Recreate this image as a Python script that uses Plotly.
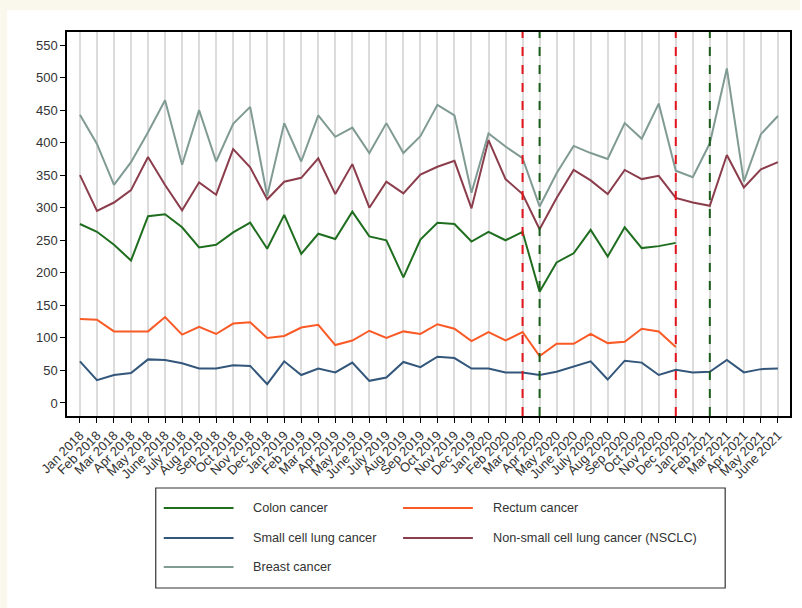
import plotly.graph_objects as go

# Month labels, Jan 2018 - June 2021
month_names = ["Jan", "Feb", "Mar", "Apr", "May", "June", "July", "Aug", "Sep", "Oct", "Nov", "Dec"]
months = [f"{m} {y}" for y in (2018, 2019, 2020) for m in month_names] + \
         [f"{m} 2021" for m in month_names[:6]]

# Monthly case counts per cancer type
colon = [275, 263, 243, 219, 287, 290, 270, 239, 243, 262, 277, 237,
         289, 229, 260, 252, 294, 256, 250, 193, 251, 277, 275, 248,
         263, 250, 263, 171, 216, 230, 266, 225, 270, 238, 241, 246,
         None, None, None, None, None, None]
rectum = [129, 128, 110, 110, 110, 132, 105, 117, 106, 122, 124, 100,
          103, 116, 120, 89, 96, 111, 100, 110, 106, 121, 114, 95,
          109, 96, 109, 72, 91, 91, 106, 92, 94, 114, 110, 86,
          None, None, None, None, None, None]
sclc = [64, 35, 43, 46, 67, 66, 61, 53, 53, 58, 57, 29,
        64, 43, 53, 47, 62, 34, 39, 63, 55, 71, 69, 53,
        53, 47, 47, 43, 48, 56, 64, 36, 65, 62, 43, 51,
        47, 48, 66, 47, 52, 53]
nsclc = [350, 295, 308, 327, 378, 335, 296, 339, 320, 390, 362, 313,
         340, 346, 376, 321, 367, 300, 340, 322, 351, 363, 372, 299,
         404, 344, 321, 267, 315, 358, 342, 321, 358, 344, 349, 315,
         308, 303, 381, 331, 359, 370]
breast = [443, 398, 335, 370, 416, 465, 366, 450, 371, 429, 455, 318,
          430, 371, 442, 409, 423, 384, 430, 384, 410, 458, 442, 323,
          414, 394, 376, 302, 353, 395, 384, 375, 430, 406, 460, 357,
          347, 399, 514, 340, 413, 441]

series = [
    ("Colon cancer", colon, "#1f6e1f"),
    ("Rectum cancer", rectum, "#fa5a26"),
    ("Small cell lung cancer", sclc, "#33567b"),
    ("Non-small cell lung cancer (NSCLC)", nsclc, "#8b3d4c"),
    ("Breast cancer", breast, "#809a94"),
]

# Reference months marked with dashed vertical lines
red_marks = ["Mar 2020", "Dec 2020"]
green_marks = ["Apr 2020", "Feb 2021"]

y_ticks = list(range(0, 551, 50))

W, H = 802, 608
L, R, T, B = 67, 10, 32, 192
pw, ph = W - L - R, H - T - B


def px_x(p):
    return (p - L) / pw


def px_y(p):
    return (H - B - p) / ph


fig = go.Figure()
x_idx = list(range(len(months)))
for name, vals, col in series:
    fig.add_trace(go.Scatter(x=x_idx, y=vals, mode="lines", name=name,
                             line=dict(color=col, width=2), showlegend=False))

shapes = []
# cream strip on the top and left page edges
shapes.append(dict(type="rect", xref="paper", yref="paper", x0=px_x(0), x1=px_x(W),
                   y0=px_y(0), y1=px_y(10), fillcolor="#faf8ec", line_width=0, layer="below"))
shapes.append(dict(type="rect", xref="paper", yref="paper", x0=px_x(0), x1=px_x(7),
                   y0=px_y(0), y1=px_y(H), fillcolor="#faf8ec", line_width=0, layer="below"))

for m in red_marks:
    shapes.append(dict(type="line", xref="x", yref="paper", x0=months.index(m), x1=months.index(m),
                       y0=0, y1=1, line=dict(color="#e3141c", width=2, dash="dash")))
for m in green_marks:
    shapes.append(dict(type="line", xref="x", yref="paper", x0=months.index(m), x1=months.index(m),
                       y0=0, y1=1, line=dict(color="#1b5e1b", width=2, dash="dash")))

# legend box
shapes.append(dict(type="rect", xref="paper", yref="paper", x0=px_x(156), x1=px_x(727),
                   y0=px_y(488), y1=px_y(588), line=dict(color="#333", width=1.2),
                   fillcolor="white"))
annotations = []
col_x = [164, 404]
row_y = [508, 538, 567]
for i, (name, vals, col) in enumerate(series):
    cx = col_x[i % 2]
    ry = row_y[i // 2]
    shapes.append(dict(type="line", xref="paper", yref="paper", x0=px_x(cx), x1=px_x(cx + 70),
                       y0=px_y(ry), y1=px_y(ry), line=dict(color=col, width=2)))
    annotations.append(dict(xref="paper", yref="paper", x=px_x(cx + 88), y=px_y(ry),
                            text=name, showarrow=False, xanchor="left", yanchor="middle",
                            font=dict(size=12.7, color="#333")))

fig.update_layout(
    width=W, height=H,
    margin=dict(l=L, r=R, t=T, b=B),
    paper_bgcolor="white", plot_bgcolor="white",
    font=dict(family="Liberation Sans, Arial, sans-serif", size=13, color="#333"),
    shapes=shapes, annotations=annotations,
    showlegend=False,
)
fig.update_xaxes(
    range=[-0.76, 41.71], tickmode="array", tickvals=x_idx, ticktext=months,
    tickangle=-45, ticks="outside", ticklen=5, tickcolor="black",
    showgrid=True, gridcolor="#dcdcdc", gridwidth=1.5,
    showline=True, linecolor="black", linewidth=1.5, mirror=True, zeroline=False,
)
fig.update_yaxes(
    range=[-20, 570], tickmode="array", tickvals=y_ticks,
    ticks="outside", ticklen=5, tickcolor="black",
    showgrid=False, showline=True, linecolor="black", linewidth=1.5, mirror=True,
    zeroline=False,
)

fig.write_html("out.html")
